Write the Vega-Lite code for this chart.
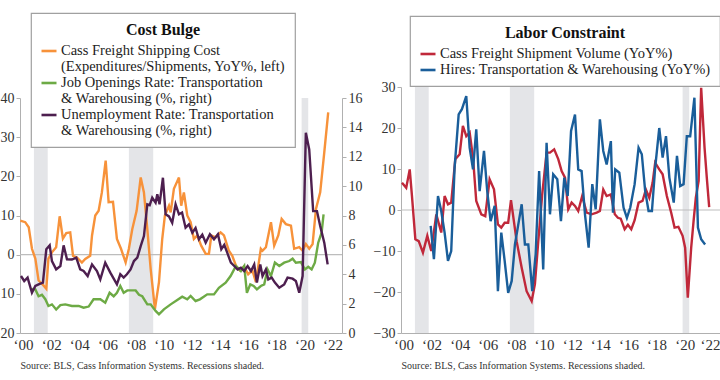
{
  "$schema": "https://vega.github.io/schema/vega-lite/v6.json",
  "background": "white",
  "padding": {"left": -8, "top": 12, "right": 0, "bottom": 0},
  "spacing": 11,
  "center": true,
  "config": {
    "view": {"stroke": null},
    "font": "Liberation Serif",
    "axis": {"labelFont": "Liberation Serif", "labelFontSize": 14, "labelColor": "#333", "domainColor": "#b0b0b0", "tickColor": "#b0b0b0", "grid": false, "titleFont": "Liberation Serif", "labelOverlap": false, "labelBound": false},
    "legend": {"strokeWidth": 1.2}
  },
  "datasets": {
    "rec": [{"a": 2001.17, "b": 2002.15}, {"a": 2007.92, "b": 2009.65}, {"a": 2020.2, "b": 2020.67}],
    "zero": [{"v": 0}],
    "ship_cost": [
      {"t": 2000.2, "v": 8.7}, {"t": 2000.55, "v": 8.3}, {"t": 2000.8, "v": 7.0}, {"t": 2001.03, "v": 1.5}, {"t": 2001.27, "v": -1}, {"t": 2001.5, "v": -6.6}, {"t": 2001.74, "v": -7.4}, {"t": 2002.05, "v": -8.7}, {"t": 2002.2, "v": -1}, {"t": 2002.45, "v": 0.6}, {"t": 2002.75, "v": 1.9}, {"t": 2003.0, "v": 9.8}, {"t": 2003.23, "v": 4.1}, {"t": 2003.47, "v": 5.5}, {"t": 2003.75, "v": 5.7}, {"t": 2003.95, "v": -0.3}, {"t": 2004.23, "v": -0.7}, {"t": 2004.58, "v": -2}, {"t": 2004.82, "v": -1.1}, {"t": 2005.17, "v": -0.3}, {"t": 2005.3, "v": 4.9}, {"t": 2005.53, "v": 10}, {"t": 2005.77, "v": 11.2}, {"t": 2006.0, "v": 15.9}, {"t": 2006.27, "v": 24}, {"t": 2006.48, "v": 13.4}, {"t": 2006.79, "v": 13.5}, {"t": 2007.07, "v": 4}, {"t": 2007.36, "v": 1.5}, {"t": 2007.69, "v": -2}, {"t": 2007.92, "v": 1.5}, {"t": 2008.16, "v": 6.5}, {"t": 2008.47, "v": 11.2}, {"t": 2008.76, "v": 19.7}, {"t": 2008.99, "v": 15.9}, {"t": 2009.23, "v": 6.5}, {"t": 2009.47, "v": -3.7}, {"t": 2009.77, "v": -13.9}, {"t": 2010.06, "v": -7}, {"t": 2010.29, "v": 4}, {"t": 2010.48, "v": 10}, {"t": 2010.77, "v": 12.5}, {"t": 2010.89, "v": 10.8}, {"t": 2011.12, "v": 16.8}, {"t": 2011.48, "v": 19.7}, {"t": 2011.64, "v": 12.5}, {"t": 2011.83, "v": 15.9}, {"t": 2012.07, "v": 10}, {"t": 2012.31, "v": 8.3}, {"t": 2012.54, "v": 4}, {"t": 2012.78, "v": 4.9}, {"t": 2013.06, "v": 2.3}, {"t": 2013.38, "v": 0.2}, {"t": 2013.61, "v": 0.2}, {"t": 2013.78, "v": 4.9}, {"t": 2014.09, "v": 4.4}, {"t": 2014.44, "v": 5.7}, {"t": 2014.68, "v": 4.9}, {"t": 2015.03, "v": 1}, {"t": 2015.27, "v": -0.3}, {"t": 2015.53, "v": -2.8}, {"t": 2015.8, "v": -4}, {"t": 2016.1, "v": -3}, {"t": 2016.4, "v": -5}, {"t": 2016.7, "v": -4}, {"t": 2016.95, "v": -7}, {"t": 2017.3, "v": 1.5}, {"t": 2017.42, "v": 1}, {"t": 2017.66, "v": 1.9}, {"t": 2017.83, "v": 4.9}, {"t": 2018.02, "v": 8.3}, {"t": 2018.25, "v": 2.3}, {"t": 2018.54, "v": 4.9}, {"t": 2018.78, "v": 9.1}, {"t": 2019.08, "v": 7.8}, {"t": 2019.44, "v": 7.4}, {"t": 2019.67, "v": 1.5}, {"t": 2020.03, "v": 1.9}, {"t": 2020.27, "v": 1}, {"t": 2020.5, "v": 2.7}, {"t": 2020.74, "v": 1.5}, {"t": 2020.98, "v": 2.7}, {"t": 2021.22, "v": 11.7}, {"t": 2021.52, "v": 15.9}, {"t": 2021.81, "v": 26.1}, {"t": 2022.09, "v": 36.3}
    ],
    "job_open": [
      {"t": 2001.0, "v": 3.0}, {"t": 2001.27, "v": 2.97}, {"t": 2001.5, "v": 2.5}, {"t": 2001.74, "v": 2.6}, {"t": 2001.98, "v": 2.3}, {"t": 2002.2, "v": 1.84}, {"t": 2002.45, "v": 1.95}, {"t": 2002.75, "v": 1.6}, {"t": 2003.05, "v": 1.9}, {"t": 2003.4, "v": 1.95}, {"t": 2003.87, "v": 1.84}, {"t": 2004.35, "v": 1.84}, {"t": 2004.7, "v": 1.72}, {"t": 2005.06, "v": 1.8}, {"t": 2005.41, "v": 2.3}, {"t": 2005.89, "v": 2.3}, {"t": 2006.24, "v": 2.06}, {"t": 2006.55, "v": 2.74}, {"t": 2006.84, "v": 2.5}, {"t": 2007.07, "v": 2.74}, {"t": 2007.31, "v": 3.2}, {"t": 2007.55, "v": 2.74}, {"t": 2007.81, "v": 2.9}, {"t": 2008.1, "v": 2.9}, {"t": 2008.4, "v": 2.9}, {"t": 2008.64, "v": 2.6}, {"t": 2008.87, "v": 2.5}, {"t": 2009.23, "v": 1.95}, {"t": 2009.47, "v": 1.95}, {"t": 2009.82, "v": 1.5}, {"t": 2010.06, "v": 1.27}, {"t": 2010.41, "v": 1.61}, {"t": 2010.89, "v": 1.95}, {"t": 2011.36, "v": 2.25}, {"t": 2011.71, "v": 2.47}, {"t": 2012.07, "v": 2.29}, {"t": 2012.31, "v": 2.52}, {"t": 2012.66, "v": 2.18}, {"t": 2012.97, "v": 2.29}, {"t": 2013.49, "v": 2.63}, {"t": 2013.97, "v": 2.63}, {"t": 2014.32, "v": 3.08}, {"t": 2014.8, "v": 3.43}, {"t": 2015.15, "v": 3.88}, {"t": 2015.53, "v": 4.56}, {"t": 2015.88, "v": 4.22}, {"t": 2016.12, "v": 4.56}, {"t": 2016.31, "v": 2.74}, {"t": 2016.55, "v": 3.31}, {"t": 2016.79, "v": 3.2}, {"t": 2017.02, "v": 2.97}, {"t": 2017.3, "v": 3.2}, {"t": 2017.54, "v": 3.31}, {"t": 2017.78, "v": 4.33}, {"t": 2018.02, "v": 3.88}, {"t": 2018.3, "v": 4.79}, {"t": 2018.61, "v": 4.56}, {"t": 2018.96, "v": 4.79}, {"t": 2019.32, "v": 4.9}, {"t": 2019.56, "v": 5.06}, {"t": 2019.79, "v": 4.79}, {"t": 2020.15, "v": 4.83}, {"t": 2020.43, "v": 4.33}, {"t": 2020.67, "v": 4.51}, {"t": 2020.91, "v": 4.33}, {"t": 2021.14, "v": 4.79}, {"t": 2021.38, "v": 6.15}, {"t": 2021.62, "v": 6.83}, {"t": 2021.76, "v": 8.08}
    ],
    "unemp": [
      {"t": 2000.25, "v": 3.88}, {"t": 2000.48, "v": 3.54}, {"t": 2000.72, "v": 3.77}, {"t": 2001.03, "v": 2.74}, {"t": 2001.27, "v": 3.2}, {"t": 2001.5, "v": 3.31}, {"t": 2001.81, "v": 3.43}, {"t": 2002.05, "v": 5.7}, {"t": 2002.29, "v": 5.97}, {"t": 2002.45, "v": 4.9}, {"t": 2002.75, "v": 4.33}, {"t": 2003.05, "v": 4.56}, {"t": 2003.28, "v": 5.97}, {"t": 2003.52, "v": 5.02}, {"t": 2003.87, "v": 5.0}, {"t": 2004.18, "v": 5.13}, {"t": 2004.46, "v": 4.33}, {"t": 2004.7, "v": 4.22}, {"t": 2004.99, "v": 3.88}, {"t": 2005.3, "v": 4.67}, {"t": 2005.65, "v": 4.22}, {"t": 2005.89, "v": 3.65}, {"t": 2006.24, "v": 4.79}, {"t": 2006.6, "v": 4.11}, {"t": 2007.07, "v": 3.31}, {"t": 2007.31, "v": 4.0}, {"t": 2007.55, "v": 3.77}, {"t": 2007.78, "v": 4.0}, {"t": 2008.04, "v": 4.33}, {"t": 2008.28, "v": 4.9}, {"t": 2008.52, "v": 5.13}, {"t": 2008.76, "v": 5.92}, {"t": 2008.99, "v": 6.6}, {"t": 2009.23, "v": 8.76}, {"t": 2009.4, "v": 8.7}, {"t": 2009.58, "v": 9.21}, {"t": 2009.82, "v": 8.87}, {"t": 2009.94, "v": 9.44}, {"t": 2010.1, "v": 8.76}, {"t": 2010.34, "v": 10.57}, {"t": 2010.53, "v": 8.08}, {"t": 2010.77, "v": 7.94}, {"t": 2011.0, "v": 7.51}, {"t": 2011.24, "v": 8.76}, {"t": 2011.48, "v": 8.08}, {"t": 2011.7, "v": 8.2}, {"t": 2011.95, "v": 7.17}, {"t": 2012.19, "v": 7.4}, {"t": 2012.43, "v": 6.83}, {"t": 2012.66, "v": 7.15}, {"t": 2012.9, "v": 6.38}, {"t": 2013.14, "v": 6.7}, {"t": 2013.38, "v": 6.15}, {"t": 2013.68, "v": 6.72}, {"t": 2013.97, "v": 6.38}, {"t": 2014.25, "v": 6.72}, {"t": 2014.49, "v": 5.7}, {"t": 2014.7, "v": 6.0}, {"t": 2014.91, "v": 5.47}, {"t": 2015.17, "v": 4.79}, {"t": 2015.41, "v": 4.56}, {"t": 2015.65, "v": 4.33}, {"t": 2015.88, "v": 4.45}, {"t": 2016.12, "v": 4.22}, {"t": 2016.36, "v": 4.56}, {"t": 2016.6, "v": 4.22}, {"t": 2016.83, "v": 4.67}, {"t": 2017.02, "v": 3.43}, {"t": 2017.26, "v": 4.67}, {"t": 2017.42, "v": 3.88}, {"t": 2017.66, "v": 4.33}, {"t": 2017.83, "v": 3.65}, {"t": 2018.07, "v": 3.77}, {"t": 2018.3, "v": 3.43}, {"t": 2018.61, "v": 3.08}, {"t": 2018.96, "v": 3.31}, {"t": 2019.2, "v": 3.77}, {"t": 2019.56, "v": 3.7}, {"t": 2019.79, "v": 3.54}, {"t": 2020.03, "v": 2.74}, {"t": 2020.27, "v": 3.88}, {"t": 2020.5, "v": 13.64}, {"t": 2020.74, "v": 12.5}, {"t": 2021.02, "v": 8.3}, {"t": 2021.29, "v": 8.3}, {"t": 2021.52, "v": 7.28}, {"t": 2021.81, "v": 6.15}, {"t": 2022.05, "v": 4.67}
    ],
    "ship_vol": [
      {"t": 2000.25, "v": 6.66}, {"t": 2000.55, "v": 5.4}, {"t": 2000.8, "v": 9.9}, {"t": 2000.96, "v": 3.4}, {"t": 2001.2, "v": -7.15}, {"t": 2001.44, "v": -7.6}, {"t": 2001.74, "v": -10.4}, {"t": 2002.05, "v": -6.3}, {"t": 2002.33, "v": -10}, {"t": 2002.69, "v": -1.05}, {"t": 2003.04, "v": -5.5}, {"t": 2003.28, "v": 3.4}, {"t": 2003.52, "v": 1.4}, {"t": 2003.75, "v": 1.8}, {"t": 2004.04, "v": 12.4}, {"t": 2004.35, "v": 13.6}, {"t": 2004.58, "v": 20.5}, {"t": 2004.82, "v": 18}, {"t": 2005.06, "v": 18.9}, {"t": 2005.3, "v": 12.8}, {"t": 2005.53, "v": 2.2}, {"t": 2005.89, "v": -1.05}, {"t": 2006.17, "v": -1.5}, {"t": 2006.48, "v": 7.5}, {"t": 2006.79, "v": 5.05}, {"t": 2007.07, "v": -3.5}, {"t": 2007.31, "v": -4.3}, {"t": 2007.55, "v": -3.1}, {"t": 2007.8, "v": -3.1}, {"t": 2008.0, "v": 2.4}, {"t": 2008.4, "v": -7.6}, {"t": 2008.76, "v": -14.1}, {"t": 2009.11, "v": -19.8}, {"t": 2009.47, "v": -22.2}, {"t": 2009.7, "v": -18.1}, {"t": 2009.94, "v": -7.6}, {"t": 2010.22, "v": 3.8}, {"t": 2010.53, "v": 14}, {"t": 2010.77, "v": 14}, {"t": 2011.07, "v": 14.8}, {"t": 2011.36, "v": 12.4}, {"t": 2011.6, "v": 9.5}, {"t": 2011.84, "v": 7.9}, {"t": 2012.07, "v": 0.17}, {"t": 2012.31, "v": 1.8}, {"t": 2012.55, "v": 1.0}, {"t": 2012.78, "v": -0.24}, {"t": 2013.06, "v": 3.4}, {"t": 2013.38, "v": -0.65}, {"t": 2013.73, "v": -1.05}, {"t": 2014.09, "v": -0.65}, {"t": 2014.32, "v": -0.24}, {"t": 2014.56, "v": 5}, {"t": 2014.8, "v": 3.4}, {"t": 2015.1, "v": 3.8}, {"t": 2015.38, "v": -1.05}, {"t": 2015.6, "v": -1.9}, {"t": 2015.8, "v": -2.1}, {"t": 2016.08, "v": -4.7}, {"t": 2016.31, "v": -3.6}, {"t": 2016.55, "v": -4.7}, {"t": 2016.79, "v": -2.5}, {"t": 2017.07, "v": 1.8}, {"t": 2017.35, "v": 2.2}, {"t": 2017.59, "v": 5}, {"t": 2017.83, "v": 3}, {"t": 2018.07, "v": 6.7}, {"t": 2018.25, "v": 11.5}, {"t": 2018.54, "v": 9.9}, {"t": 2018.78, "v": 8.7}, {"t": 2019.08, "v": 3.4}, {"t": 2019.39, "v": -0.65}, {"t": 2019.63, "v": -4.3}, {"t": 2019.9, "v": -4.1}, {"t": 2020.2, "v": -6.3}, {"t": 2020.38, "v": -9.2}, {"t": 2020.57, "v": -21.4}, {"t": 2020.81, "v": -9.2}, {"t": 2020.98, "v": -2.7}, {"t": 2021.14, "v": 3}, {"t": 2021.34, "v": 7.1}, {"t": 2021.52, "v": 29.8}, {"t": 2021.76, "v": 15.2}, {"t": 2021.92, "v": 7.9}, {"t": 2022.09, "v": 0.7}
    ],
    "hires": [
      {"t": 2002.29, "v": -3.9}, {"t": 2002.52, "v": -12}, {"t": 2002.81, "v": 3.4}, {"t": 2003.04, "v": -0.24}, {"t": 2003.28, "v": -5.5}, {"t": 2003.52, "v": -12.4}, {"t": 2003.75, "v": -10}, {"t": 2003.99, "v": 10.3}, {"t": 2004.28, "v": 23.3}, {"t": 2004.51, "v": 24.6}, {"t": 2004.82, "v": 27.8}, {"t": 2005.06, "v": 15.2}, {"t": 2005.3, "v": 9.9}, {"t": 2005.53, "v": 19.7}, {"t": 2005.77, "v": 4.6}, {"t": 2006.08, "v": 14.4}, {"t": 2006.31, "v": 4.6}, {"t": 2006.55, "v": -2.7}, {"t": 2006.84, "v": 1}, {"t": 2007.07, "v": -19.8}, {"t": 2007.31, "v": -5.5}, {"t": 2007.55, "v": -12.4}, {"t": 2007.8, "v": -20.2}, {"t": 2008.05, "v": -17.3}, {"t": 2008.28, "v": -8.4}, {"t": 2008.52, "v": -3.5}, {"t": 2008.76, "v": 1.4}, {"t": 2008.99, "v": -8.4}, {"t": 2009.23, "v": -8.4}, {"t": 2009.51, "v": -19.8}, {"t": 2009.75, "v": -10.8}, {"t": 2010.0, "v": 9.5}, {"t": 2010.29, "v": -14.5}, {"t": 2010.53, "v": 16.4}, {"t": 2010.77, "v": -1.05}, {"t": 2011.0, "v": 8.7}, {"t": 2011.29, "v": 7.5}, {"t": 2011.55, "v": -2.7}, {"t": 2011.79, "v": 7.9}, {"t": 2012.03, "v": 3.4}, {"t": 2012.27, "v": 19.3}, {"t": 2012.55, "v": 23.3}, {"t": 2012.78, "v": 9.9}, {"t": 2013.02, "v": 9.5}, {"t": 2013.26, "v": -1.05}, {"t": 2013.52, "v": -9.2}, {"t": 2013.78, "v": 6.3}, {"t": 2014.02, "v": 0.17}, {"t": 2014.32, "v": 22.1}, {"t": 2014.56, "v": 14.4}, {"t": 2014.8, "v": 11.1}, {"t": 2015.1, "v": 16.8}, {"t": 2015.25, "v": -0.65}, {"t": 2015.41, "v": 9.9}, {"t": 2015.7, "v": 9.1}, {"t": 2016.0, "v": 0.6}, {"t": 2016.24, "v": -1.9}, {"t": 2016.48, "v": 0.6}, {"t": 2016.79, "v": 6.3}, {"t": 2017.07, "v": 15.2}, {"t": 2017.3, "v": 13.6}, {"t": 2017.54, "v": 4.6}, {"t": 2017.78, "v": -0.24}, {"t": 2018.02, "v": -0.24}, {"t": 2018.25, "v": 10.3}, {"t": 2018.54, "v": 20}, {"t": 2018.78, "v": 12.8}, {"t": 2019.02, "v": 18}, {"t": 2019.26, "v": 7.9}, {"t": 2019.57, "v": 1.8}, {"t": 2019.8, "v": 13.2}, {"t": 2020.03, "v": 5.85}, {"t": 2020.27, "v": 6.3}, {"t": 2020.5, "v": 18}, {"t": 2020.74, "v": 18}, {"t": 2021.04, "v": 27.4}, {"t": 2021.29, "v": -4.3}, {"t": 2021.52, "v": -7.15}, {"t": 2021.8, "v": -8.4}
    ]
  },
  "resolve": {"scale": {"color": "independent"}, "legend": {"color": "independent"}},
  "hconcat": [
    {
      "width": 322,
      "height": 235,
      "resolve": {"scale": {"y": "independent"}},
      "layer": [
        {
          "data": {"name": "rec"},
          "mark": {"type": "rect", "color": "#e4e5e8"},
          "encoding": {
            "x": {"field": "a", "type": "quantitative", "scale": {"domain": [2000.18, 2023.07], "nice": false, "zero": false},
              "axis": {"values": [2000.4, 2002.4, 2004.4, 2006.4, 2008.4, 2010.4, 2012.4, 2014.4, 2016.4, 2018.4, 2020.4, 2022.4], "tickCount": 30, "labelExpr": "'\u2018' + format(floor(datum.value) % 100, '02d')", "ticks": false, "labelFontSize": 15, "labelPadding": 4, "labelFlush": false, "labelOverlap": false, "title": "Source: BLS, Cass Information Systems. Recessions shaded.", "titleAnchor": "start", "titleFontSize": 10, "titleFontWeight": "normal", "titleColor": "#333", "titlePadding": 8}},
            "x2": {"field": "b"}
          }
        },
        {
          "data": {"name": "zero"},
          "mark": {"type": "rule", "color": "#bdbdbd", "strokeWidth": 1.2},
          "encoding": {"y": {"field": "v", "type": "quantitative", "scale": {"domain": [-20, 40], "nice": false, "zero": false}, "axis": null}}
        },
        {
          "data": {"name": "ship_cost"},
          "mark": {"type": "line", "strokeWidth": 2.4},
          "encoding": {
            "x": {"field": "t", "type": "quantitative",
              "axis": {"values": [2000.4, 2002.4, 2004.4, 2006.4, 2008.4, 2010.4, 2012.4, 2014.4, 2016.4, 2018.4, 2020.4, 2022.4], "tickCount": 30, "labelExpr": "'\u2018' + format(floor(datum.value) % 100, '02d')", "ticks": false, "labelFontSize": 15, "labelPadding": 4, "labelFlush": false, "labelOverlap": false, "title": "Source: BLS, Cass Information Systems. Recessions shaded.", "titleAnchor": "start", "titleFontSize": 10, "titleFontWeight": "normal", "titleColor": "#333", "titlePadding": 8}},
            "y": {"field": "v", "type": "quantitative", "scale": {"domain": [-20, 40], "nice": false, "zero": false}, "axis": {"values": [-20, -10, 0, 10, 20, 30, 40], "format": "d", "tickSize": 4, "labelPadding": 2, "title": null}},
            "color": {"datum": "Cass Freight Shipping Cost", "type": "nominal",
              "scale": {"domain": ["Cass Freight Shipping Cost", "(Expenditures/Shipments, YoY%, left)", "Job Openings Rate: Transportation", "& Warehousing (%, right)", "Unemployment Rate: Transportation", "& Warehousing (%, right) "], "range": ["#f7923a", "rgba(0,0,0,0)", "#6daa45", "rgba(0,0,0,0)", "#4d1f4f", "rgba(0,0,0,0)"]},
              "legend": {"title": "Cost Bulge", "orient": "none", "legendX": 11, "legendY": -85, "direction": "vertical", "symbolType": "stroke", "symbolStrokeWidth": 2.6, "symbolSize": 225, "labelFont": "Liberation Serif", "labelFontSize": 14.5, "labelColor": "#222", "labelLimit": 400, "labelOffset": 3, "titleFont": "Liberation Serif", "titleFontSize": 16, "titleFontWeight": "bold", "titleColor": "#111", "titleAnchor": "middle", "titleAlign": "center", "titlePadding": 4, "padding": 9, "rowPadding": 0, "strokeColor": "#a0a0a0", "fillColor": "white"}}
          }
        },
        {
          "data": {"name": "job_open"},
          "mark": {"type": "line", "strokeWidth": 2.4},
          "encoding": {
            "x": {"field": "t", "type": "quantitative"},
            "y": {"field": "v", "type": "quantitative", "scale": {"domain": [0, 16], "nice": false, "zero": false}, "axis": {"orient": "right", "values": [0, 2, 4, 6, 8, 10, 12, 14, 16], "format": "d", "tickSize": 4, "labelPadding": 2, "title": null}},
            "color": {"datum": "Job Openings Rate: Transportation", "type": "nominal"}
          }
        },
        {
          "data": {"name": "unemp"},
          "mark": {"type": "line", "strokeWidth": 2.4},
          "encoding": {
            "x": {"field": "t", "type": "quantitative"},
            "y": {"field": "v", "type": "quantitative", "scale": {"domain": [0, 16], "nice": false, "zero": false}, "axis": null},
            "color": {"datum": "Unemployment Rate: Transportation", "type": "nominal"}
          }
        }
      ]
    },
    {
      "width": 320,
      "height": 246,
      "layer": [
        {
          "data": {"name": "rec"},
          "mark": {"type": "rect", "color": "#e4e5e8"},
          "encoding": {
            "x": {"field": "a", "type": "quantitative", "scale": {"domain": [2000.18, 2022.93], "nice": false, "zero": false},
              "axis": {"values": [2000.35, 2002.35, 2004.35, 2006.35, 2008.35, 2010.35, 2012.35, 2014.35, 2016.35, 2018.35, 2020.35, 2022.15], "tickCount": 30, "labelExpr": "'\u2018' + format(floor(datum.value) % 100, '02d')", "ticks": false, "labelFontSize": 15, "labelPadding": 4, "labelFlush": false, "labelOverlap": false, "title": ["Source: BLS, Cass Information Systems. Recessions shaded.", " "], "titleLineHeight": 11, "titleAnchor": "start", "titleFontSize": 10, "titleFontWeight": "normal", "titleColor": "#333", "titlePadding": 8}},
            "x2": {"field": "b"}
          }
        },
        {
          "data": {"name": "zero"},
          "mark": {"type": "rule", "color": "#bdbdbd", "strokeWidth": 1.2},
          "encoding": {"y": {"field": "v", "type": "quantitative", "scale": {"domain": [-30, 30], "nice": false, "zero": false}, "axis": {"values": [-30, -20, -10, 0, 10, 20, 30], "format": "d", "tickSize": 4, "labelPadding": 2, "title": null}}}
        },
        {
          "data": {"name": "ship_vol"},
          "mark": {"type": "line", "strokeWidth": 2.4},
          "encoding": {
            "x": {"field": "t", "type": "quantitative",
              "axis": {"values": [2000.35, 2002.35, 2004.35, 2006.35, 2008.35, 2010.35, 2012.35, 2014.35, 2016.35, 2018.35, 2020.35, 2022.15], "tickCount": 30, "labelExpr": "'\u2018' + format(floor(datum.value) % 100, '02d')", "ticks": false, "labelFontSize": 15, "labelPadding": 4, "labelFlush": false, "labelOverlap": false, "title": ["Source: BLS, Cass Information Systems. Recessions shaded.", " "], "titleLineHeight": 11, "titleAnchor": "start", "titleFontSize": 10, "titleFontWeight": "normal", "titleColor": "#333", "titlePadding": 8}},
            "y": {"field": "v", "type": "quantitative"},
            "color": {"datum": "Cass Freight Shipment Volume (YoY%)", "type": "nominal",
              "scale": {"domain": ["Cass Freight Shipment Volume (YoY%)", "Hires: Transportation & Warehousing (YoY%)"], "range": ["#c0283a", "#1a5e9a"]},
              "legend": {"title": "Labor Constraint", "orient": "none", "legendX": 9, "legendY": -71, "direction": "vertical", "symbolType": "stroke", "symbolStrokeWidth": 2.6, "symbolSize": 225, "labelFont": "Liberation Serif", "labelFontSize": 14.5, "labelColor": "#222", "labelLimit": 400, "labelOffset": 3, "titleFont": "Liberation Serif", "titleFontSize": 16, "titleFontWeight": "bold", "titleColor": "#111", "titleAnchor": "middle", "titleAlign": "center", "titlePadding": 4, "padding": 9, "rowPadding": 0, "strokeColor": "#a0a0a0", "fillColor": "white"}}
          }
        },
        {
          "data": {"name": "hires"},
          "mark": {"type": "line", "strokeWidth": 2.4},
          "encoding": {
            "x": {"field": "t", "type": "quantitative"},
            "y": {"field": "v", "type": "quantitative"},
            "color": {"datum": "Hires: Transportation & Warehousing (YoY%)", "type": "nominal"}
          }
        }
      ]
    }
  ]
}
